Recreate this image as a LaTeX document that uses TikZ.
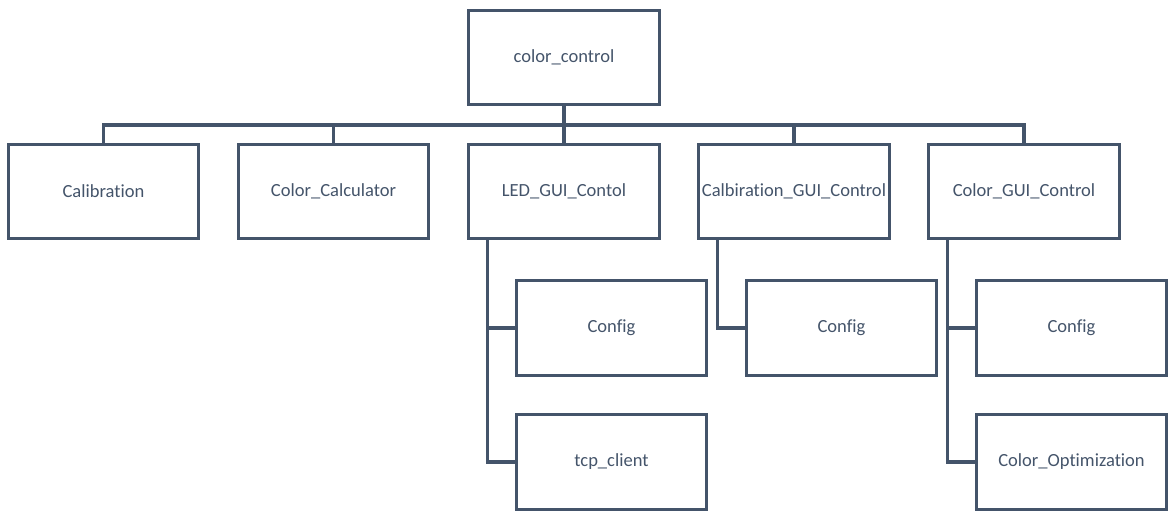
\documentclass[tikz,border=0pt]{standalone}
\usepackage{fontspec}
\setmainfont{Carlito}[Ligatures=NoCommon]
\definecolor{slate}{HTML}{44546A}
\begin{document}
\begin{tikzpicture}[x=0.75pt,y=-0.75pt,
  box/.style={draw=slate, line width=2.3pt, rectangle, minimum width=143pt,
    minimum height=71pt, inner sep=0pt, text=slate, font=\fontsize{13.9}{16}\selectfont},
  link/.style={draw=slate, line width=2.3pt}]
\useasboundingbox (0,0) rectangle (1172,519);

% root
\node[box] (root) at (564,57.5) {color\_control};

% first level
\node[box] (cal)    at (103.5,191.5) {Calibration};
\node[box] (calc)   at (333.5,191.5) {Color\_Calculator};
\node[box] (led)    at (564,191.5)   {LED\_GUI\_Contol};
\node[box] (calgui) at (794,191.5)   {Calbiration\_GUI\_Control};
\node[box] (colgui) at (1024,191.5)  {Color\_GUI\_Control};

% second level
\node[box] (ledcfg) at (611.5,328)  {Config};
\node[box] (tcp)    at (611.5,462)  {tcp\_client};
\node[box] (calcfg) at (841.5,328)  {Config};
\node[box] (colcfg) at (1071.5,328) {Config};
\node[box] (colopt) at (1071.5,462) {Color\_Optimization};

% bus under the root
\coordinate (bus) at (564,125);
\draw[link] (root.south) -- (bus);
\foreach \n in {cal,calc,led,calgui,colgui}
  \draw[link] (bus) -| (\n.north);

% side rails to the second level
\coordinate (ledrail) at ([xshift=15pt]led.south west);
\coordinate (calrail) at ([xshift=15pt]calgui.south west);
\coordinate (colrail) at ([xshift=15pt]colgui.south west);
\draw[link] (ledrail) |- (ledcfg.west);
\draw[link] (ledrail) |- (tcp.west);
\draw[link] (calrail) |- (calcfg.west);
\draw[link] (colrail) |- (colcfg.west);
\draw[link] (colrail) |- (colopt.west);
\end{tikzpicture}
\end{document}
